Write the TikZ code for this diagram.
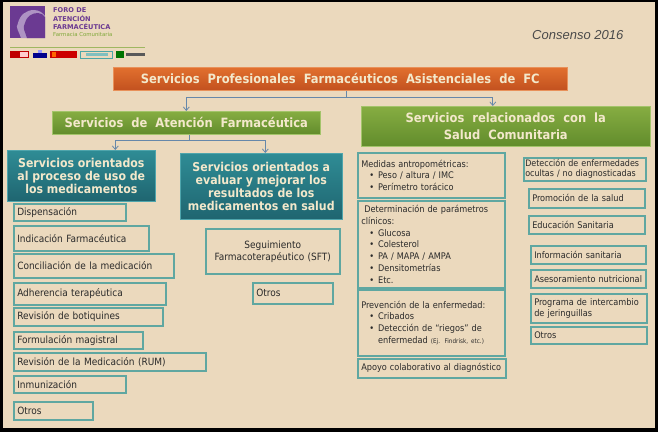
\documentclass[tikz,border=0pt]{standalone}
\usepackage{fontspec}
\setmainfont{DejaVu Sans Condensed}
\newfontfamily\consfont{Liberation Sans}
\newfontfamily\logofont{DejaVu Sans}
\usetikzlibrary{arrows.meta}
\definecolor{bg}{HTML}{EBD9BD}
\definecolor{orT}{HTML}{E2702E}
\definecolor{orB}{HTML}{C2511F}
\definecolor{orL}{HTML}{E8915A}
\definecolor{grT}{HTML}{86AD42}
\definecolor{grB}{HTML}{628C2C}
\definecolor{grL}{HTML}{A3C46A}
\definecolor{teT}{HTML}{2F8C95}
\definecolor{teB}{HTML}{1F6570}
\definecolor{teL}{HTML}{4FA5AC}
\definecolor{cream}{HTML}{F3E8CB}
\definecolor{tealbox}{HTML}{5FA7A1}
\definecolor{conn}{HTML}{6688AA}
\definecolor{txt}{HTML}{2A2A2A}
\definecolor{logopurple}{HTML}{6B3A92}
\definecolor{logogreen}{HTML}{7FA83A}
\newcommand\bul{\hspace*{8pt}\textbullet\hspace{4pt}}
\newcommand\bulc{\hspace*{8pt}\hphantom{\textbullet}\hspace{4pt}}
\tikzset{
  head/.style={anchor=north west, text=cream, align=center, inner sep=0pt,
    font=\fontsize{12.8}{13}\selectfont\bfseries, line width=0.6pt},
  orangebox/.style={head, top color=orT, bottom color=orB, draw=orL},
  greenbox/.style={head, top color=grT, bottom color=grB, draw=grL},
  tealhead/.style={head, top color=teT, bottom color=teB, draw=teL,
    font=\fontsize{12.2}{13}\selectfont\bfseries},
  item/.style={anchor=north west, draw=tealbox, line width=1.5pt, fill=bg,
    inner xsep=3.5pt, inner ysep=0pt, align=left, text=txt,
    font=\fontsize{10}{12}\selectfont},
  itemr/.style={item, font=\fontsize{9.1}{11.8}\selectfont},
  arr/.style={draw=conn, line width=0.8pt, -{Straight Barb[length=3.5pt,width=6pt]}},
  ln/.style={draw=conn, line width=0.8pt},
  logotxt/.style={anchor=west, inner sep=0pt, text=logopurple,
    font=\logofont\fontsize{6.6}{7}\selectfont\bfseries}
}
\begin{document}
\begin{tikzpicture}[x=1pt,y=-1pt]
\useasboundingbox (0,0) rectangle (658,432);
\fill[black] (0,0) rectangle (658,432);
\fill[bg] (3,2) rectangle (655,428);
% logo
\fill[logopurple] (10,6) rectangle (45,38);
\fill[logopurple!55!white] (21,38) .. controls (19,31) and (15,28) .. (18,23)
  .. controls (20,15) and (26,10) .. (34,10) .. controls (39,10) and (43,13) .. (45,16)
  -- (45,38) -- cycle;
\fill[logopurple] (27,38) .. controls (25,31) and (22,28) .. (25,23)
  .. controls (27,16) and (32,13) .. (38,13) .. controls (41,13) and (44,15) .. (45,17)
  -- (45,38) -- cycle;
\node[logotxt] (l1) at (53,10) {FORO DE};
\node[logotxt] (l2) at (53,18) {ATENCIÓN};
\node[logotxt] (l3) at (53,26) {FARMACÉUTICA};
\node[logotxt, text=logogreen, font=\logofont\fontsize{5.4}{6}\selectfont] (l4) at (53,34) {Farmacia Comunitaria};
\draw[logogreen!70!bg, line width=0.6pt] (10,47) -- (145,47);
\fill[red!75!black] (10,51) rectangle (29,58);
\fill[white!80!red] (20,52) rectangle (28,57);
\fill[blue!55!black] (33,53) rectangle (47,58);
\fill[blue!40!white] (38,50) rectangle (42,53);
\fill[red!80!black] (50,51) rectangle (77,58);
\fill[orange!80!red] (52,52) rectangle (56,57);
\draw[teal!70!white, line width=0.6pt] (80,51) rectangle (112,58);
\fill[teal!50!white] (86,53) rectangle (108,56);
\fill[green!45!black] (116,51) rectangle (124,58);
\fill[gray!70!black] (126,53) rectangle (145,56);
% consenso
\node[anchor=west, inner sep=0pt, text=txt!85!white, font=\consfont\fontsize{13}{14}\selectfont\itshape] (cons) at (532,35) {Consenso 2016};
% headings
\node[orangebox, minimum width=454, minimum height=23] (tit) at (113,67) {Servicios\ \ Profesionales\ \ Farmacéuticos\ \ Asistenciales\ \ de\ \ FC};
\node[greenbox, minimum width=268, minimum height=23] (g1) at (52,111) {Servicios\ \ de\ \ Atención\ \ Farmacéutica};
\node[greenbox, minimum width=289, minimum height=40, font=\fontsize{12.8}{16.5}\selectfont\bfseries] (g2) at (361,106) {Servicios\ \ relacionados\ \ con\ \ la\\Salud\ \ Comunitaria};
\node[tealhead, minimum width=148, minimum height=51] (t1) at (7,150) {Servicios orientados\\al proceso de uso de\\los medicamentos};
\node[tealhead, minimum width=162, minimum height=66] (t2) at (180,153) {Servicios orientados a\\evaluar y mejorar los\\resultados de los\\medicamentos en salud};
% connectors
\coordinate (j1) at (346,97);
\draw[ln] (tit.south -| j1) -- (j1);
\draw[arr] (j1) -| (g1.north);
\draw[arr] (j1) -| ([xshift=-13pt]g2.north);
\coordinate (j2) at (189,140);
\draw[ln] (g1.south -| j2) -- (j2);
\draw[arr] (j2) -| ([xshift=34pt]t1.north);
\draw[arr] (j2) -| ([xshift=4pt]t2.north);
% left list
\node[item, text width=105, minimum height=17] (dis) at (13,203) {Dispensación};
\node[item, text width=128, minimum height=25] (ind) at (13,225) {Indicación Farmacéutica};
\node[item, text width=153, minimum height=24] (con) at (13,253) {Conciliación de la medicación};
\node[item, text width=145, minimum height=22] (adh) at (13,282) {Adherencia terapéutica};
\node[item, text width=142, minimum height=18] (rev) at (13,307) {Revisión de botiquines};
\node[item, text width=122, minimum height=17] (form) at (13,331) {Formulación magistral};
\node[item, text width=185, minimum height=18] (rum) at (13,352) {Revisión de la Medicación (RUM)};
\node[item, text width=105, minimum height=17] (inm) at (13,375) {Inmunización};
\node[item, text width=72, minimum height=18] (otr) at (13,401) {Otros};
% middle
\node[item, text width=127, minimum height=45, align=center, font=\fontsize{10}{12}\selectfont] (sft) at (205,228) {Seguimiento\\Farmacoterapéutico (SFT)};
\node[item, text width=73, minimum height=21] (otr2) at (252,282) {Otros};
% right col 1
\node[itemr, text width=140, minimum height=45] (med) at (357,152) {Medidas antropométricas:\\\bul Peso / altura / IMC\\\bul Perímetro torácico};
\node[itemr, text width=140, minimum height=87] (det) at (357,200) {\ Determinación de parámetros\\clínicos:\\\bul Glucosa\\\bul Colesterol\\\bul PA / MAPA / AMPA\\\bul Densitometrías\\\bul Etc.};
\node[itemr, text width=140, minimum height=66] (prev) at (357,289) {Prevención de la enfermedad:\\\bul Cribados\\\bul Detección de “riegos” de\\\bulc enfermedad {\fontsize{6.3}{7}\selectfont(Ej. Findrisk, etc.)}};
\node[itemr, text width=141, minimum height=19] (apo) at (357,358) {Apoyo colaborativo al diagnóstico};
% right col 2
\node[itemr, text width=119, inner xsep=1.5pt, minimum height=23, font=\fontsize{8.9}{9.8}\selectfont] (detc) at (523,157) {\mbox{Detección de enfermedades}\\\mbox{ocultas / no diagnosticadas}};
\node[itemr, text width=109, minimum height=19] (prom) at (528,188) {Promoción de la salud};
\node[itemr, text width=109, minimum height=18] (edu) at (528,215) {Educación Sanitaria};
\node[itemr, text width=108, minimum height=18] (inf) at (530,245) {Información sanitaria};
\node[itemr, text width=108, minimum height=18] (ase) at (530,269) {Asesoramiento nutricional};
\node[itemr, text width=109, minimum height=29, font=\fontsize{9.1}{10.5}\selectfont] (prog) at (530,293) {Programa de intercambio\\de jeringuillas};
\node[itemr, text width=109, minimum height=17] (otr3) at (530,326) {Otros};
\end{tikzpicture}
\end{document}
